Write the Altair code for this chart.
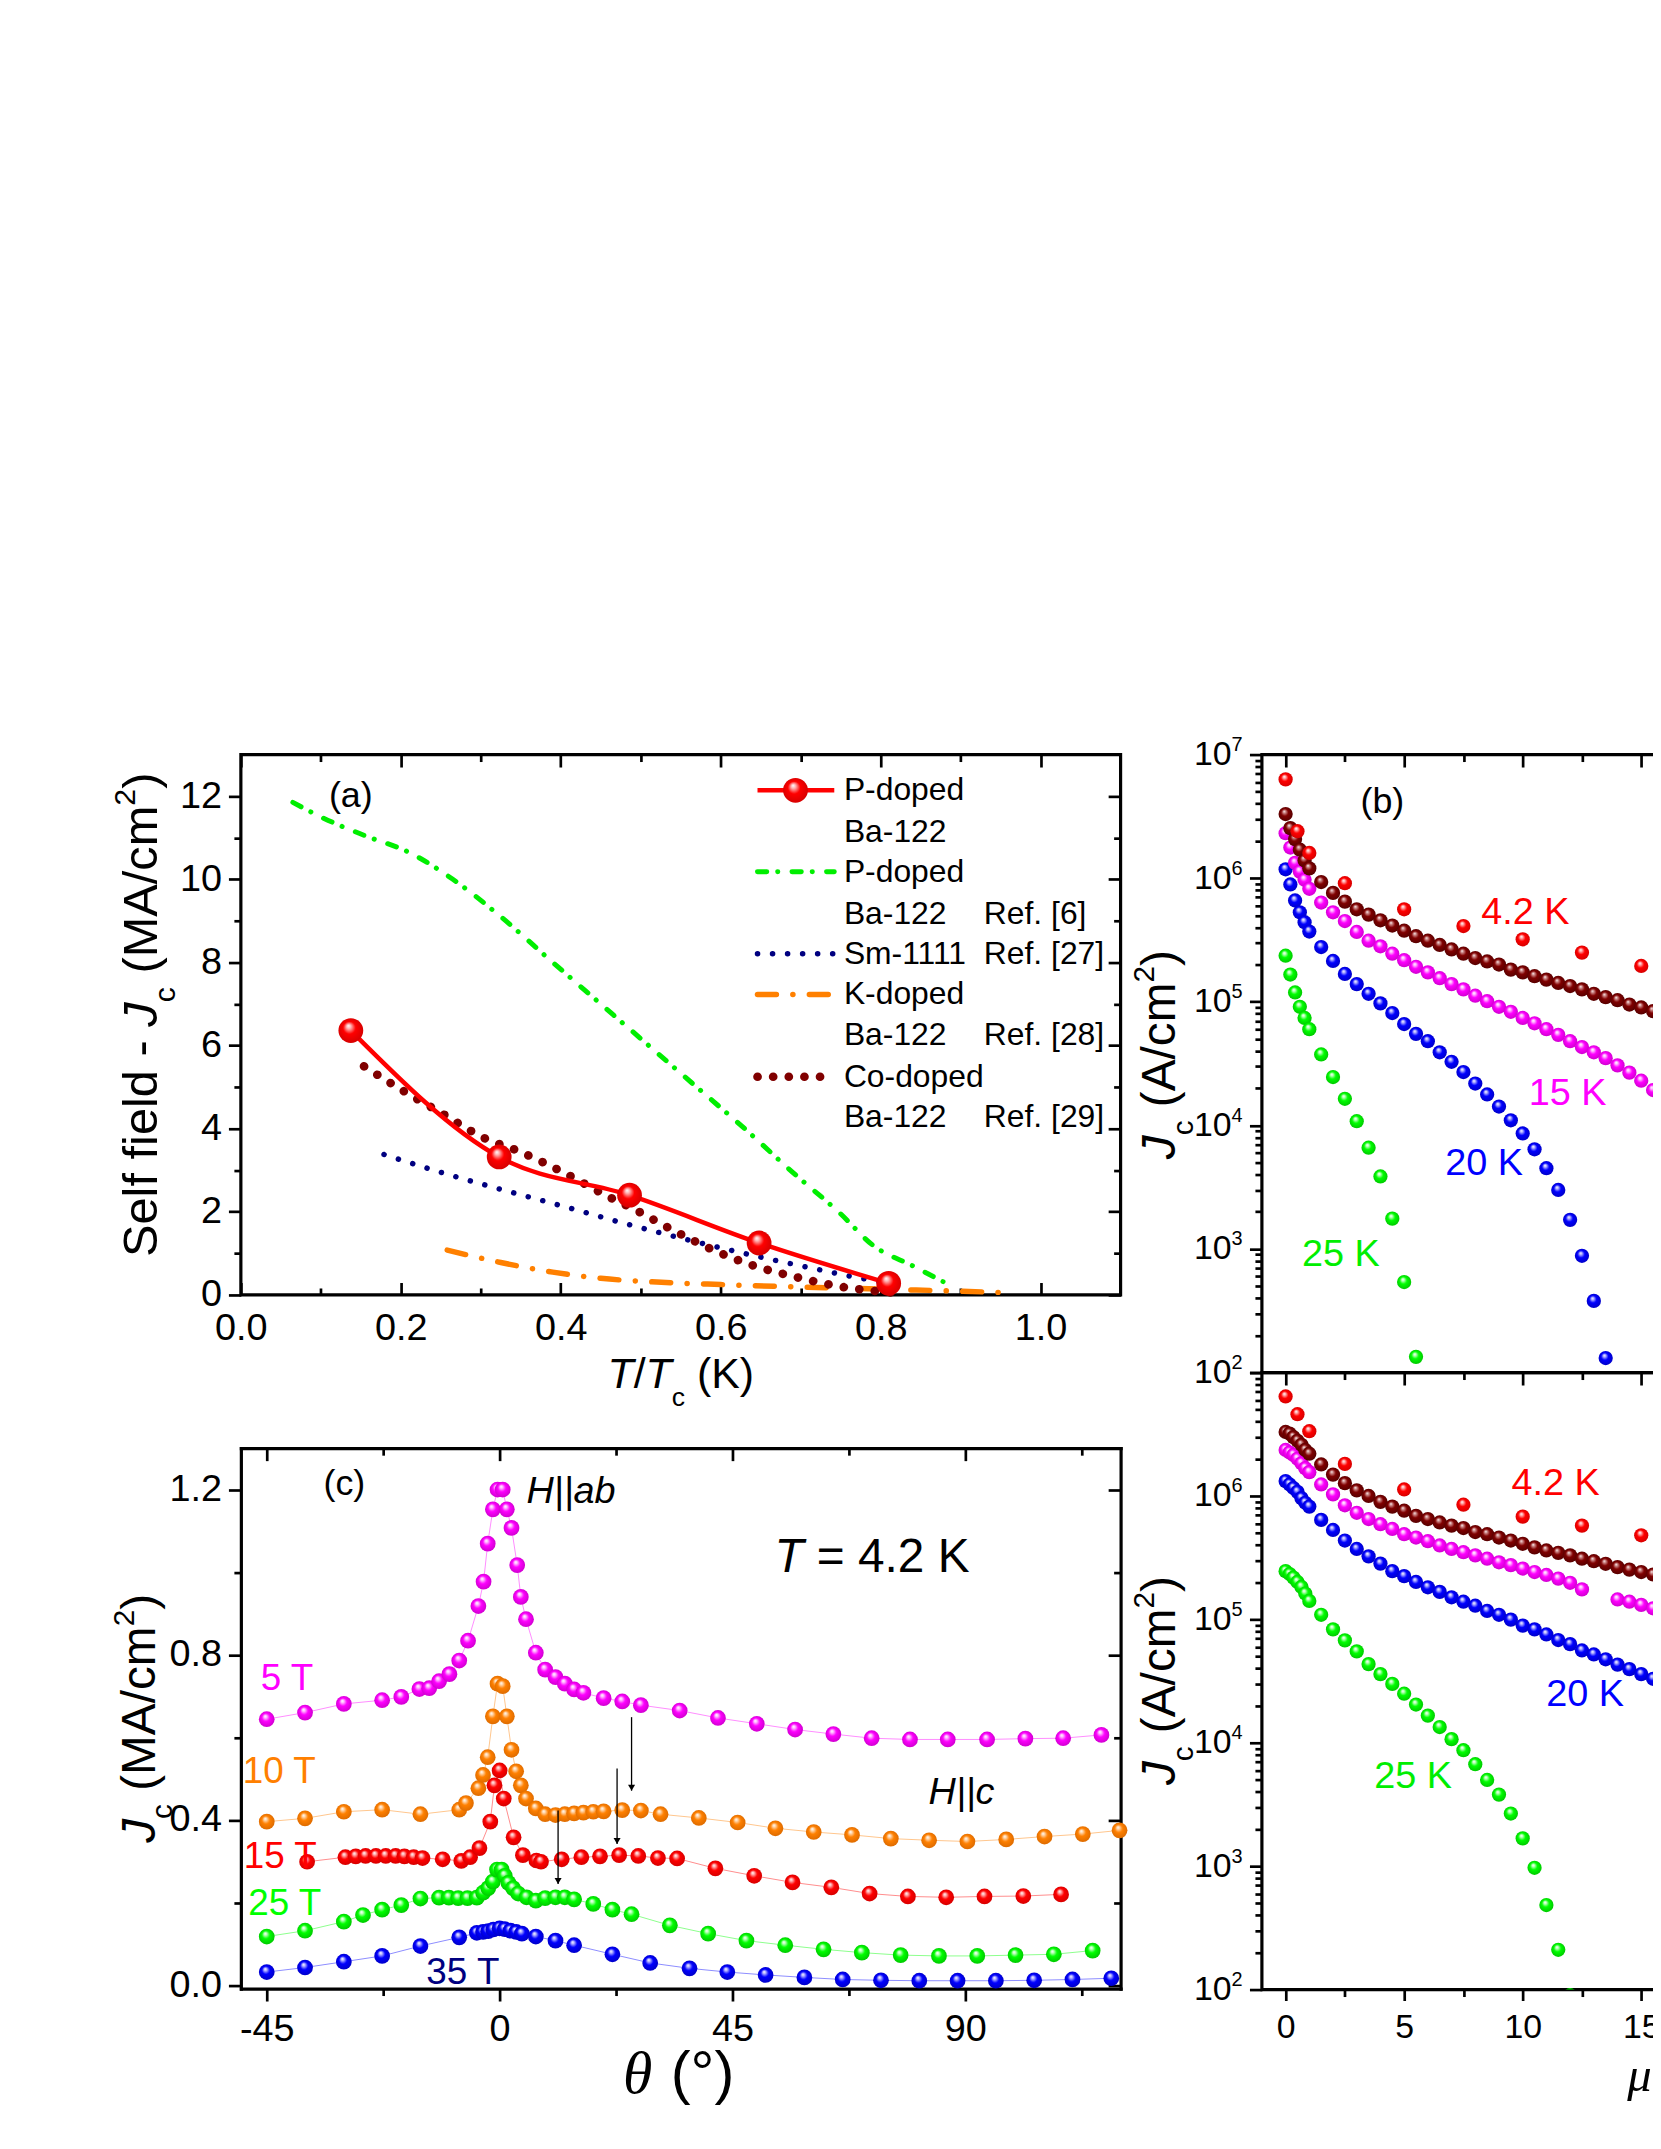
import altair as alt
import pandas as pd

FONT = "Liberation Sans"
SERIF = "Liberation Serif"

# ====================== DATA ======================
# (a) self-field Jc (MA/cm2) versus T/Tc
a_this_t = [0.1375, 0.323, 0.486, 0.648, 0.810]
a_this_jc = [6.36, 3.32, 2.40, 1.25, 0.28]
a_ref6_t = [0.065, 0.10, 0.155, 0.21, 0.265, 0.325, 0.39, 0.45, 0.51, 0.57, 0.63, 0.69, 0.75, 0.79, 0.84, 0.88]
a_ref6_jc = [11.85, 11.5, 11.05, 10.65, 10.0, 9.1, 8.0, 7.0, 6.0, 5.0, 4.0, 2.95, 1.95, 1.2, 0.7, 0.3]
a_sm_t = [0.179, 0.25, 0.325, 0.40, 0.48, 0.56, 0.65, 0.72, 0.77, 0.81]
a_sm_jc = [3.38, 2.95, 2.54, 2.15, 1.72, 1.32, 0.91, 0.62, 0.42, 0.30]
a_k_t = [0.258, 0.325, 0.39, 0.45, 0.52, 0.60, 0.70, 0.80, 0.88, 0.95]
a_k_jc = [1.08, 0.78, 0.55, 0.40, 0.31, 0.25, 0.19, 0.14, 0.10, 0.06]
a_co_t = [0.154, 0.204, 0.253, 0.308, 0.342, 0.408, 0.458, 0.492, 0.542, 0.592, 0.642, 0.692, 0.75, 0.80, 0.83]
a_co_jc = [5.5, 4.9, 4.35, 3.74, 3.5, 2.9, 2.38, 2.06, 1.54, 1.07, 0.70, 0.44, 0.20, 0.08, 0.03]

# legend of (a)
leg_col1 = ["P-doped", "Ba-122", "P-doped", "Ba-122", "Sm-1111", "K-doped", "Ba-122", "Co-doped", "Ba-122"]
leg_col2 = ["", "", "", "Ref. [6]", "Ref. [27]", "", "Ref. [28]", "", "Ref. [29]"]

# (c) Jc (MA/cm2) versus angle at 4.2 K
c5_th = [-45, -37.6, -30.1, -22.7, -19.0, -15.5, -13.6, -11.7, -9.7, -7.8, -6.1, -4.1, -3.1, -2.3, -1.3, -0.4, 0.6, 1.4,
         2.3, 3.4, 4.1, 5.1, 7.0, 8.8, 10.8, 12.6, 14.4, 16.2, 20.1, 23.7, 27.3, 34.8, 42.2, 49.7, 57.1, 64.5, 71.9,
         79.3, 86.6, 94.2, 101.6, 108.9, 116.3]
c5_jc = [0.644, 0.66, 0.681, 0.69, 0.698, 0.717, 0.719, 0.736, 0.753, 0.786, 0.834, 0.918, 0.977, 1.069, 1.152, 1.2,
         1.2, 1.152, 1.107, 1.017, 0.94, 0.886, 0.805, 0.764, 0.746, 0.73, 0.716, 0.708, 0.695, 0.687, 0.678, 0.665,
         0.647, 0.633, 0.619, 0.608, 0.598, 0.595, 0.595, 0.595, 0.597, 0.598, 0.606]
c10_th = [-45, -37.6, -30.1, -22.7, -15.3, -7.8, -6.5, -4.1, -3.2, -2.3, -1.3, -0.4, 0.6, 1.4, 2.3, 3.2, 4.1, 5.1, 7.0,
          8.8, 10.8, 12.6, 14.4, 16.2, 18.1, 20.1, 23.7, 27.3, 31.1, 38.5, 46.0, 53.3, 60.7, 68.1, 75.6, 83.0, 90.4,
          97.9, 105.3, 112.7, 119.8]
c10_jc = [0.396, 0.404, 0.42, 0.425, 0.414, 0.425, 0.441, 0.477, 0.509, 0.552, 0.651, 0.73, 0.724, 0.651, 0.57, 0.518,
          0.484, 0.452, 0.428, 0.414, 0.412, 0.414, 0.416, 0.418, 0.42, 0.421, 0.424, 0.423, 0.414, 0.405, 0.394, 0.38,
          0.371, 0.364, 0.355, 0.351, 0.348, 0.353, 0.36, 0.366, 0.375]
c15_th = [-37.2, -29.8, -27.8, -25.9, -23.9, -22.0, -20.1, -18.4, -16.6, -14.9, -11.0, -7.4, -5.7, -3.9, -1.8, -1.0, 0.0,
          0.8, 2.7, 4.5, 7.1, 8.0, 12.0, 15.8, 19.4, 23.1, 26.8, 30.6, 34.3, 41.7, 49.2, 56.6, 64.1, 71.5, 78.9, 86.3,
          93.7, 101.2, 108.5]
c15_jc = [0.299, 0.31, 0.312, 0.313, 0.313, 0.313, 0.313, 0.312, 0.31, 0.308, 0.305, 0.301, 0.31, 0.332, 0.396, 0.484,
          0.52, 0.452, 0.358, 0.315, 0.302, 0.299, 0.305, 0.31, 0.312, 0.315, 0.313, 0.308, 0.307, 0.283, 0.265, 0.249,
          0.237, 0.222, 0.215, 0.213, 0.215, 0.216, 0.22]
c25_th = [-45, -37.6, -30.1, -26.4, -22.7, -19.0, -15.3, -11.7, -9.8, -8.0, -6.2, -4.4, -3.2, -2.2, -1.3, -0.5, 0.4, 1.0,
          1.7, 2.6, 3.6, 5.2, 7.0, 8.8, 10.8, 12.6, 14.4, 18.1, 21.8, 25.5, 32.9, 40.3, 47.7, 55.2, 62.6, 70.0, 77.5,
          84.9, 92.3, 99.7, 107.1, 114.6]
c25_jc = [0.118, 0.132, 0.154, 0.17, 0.183, 0.194, 0.21, 0.212, 0.212, 0.211, 0.211, 0.212, 0.224, 0.235, 0.251, 0.28,
          0.28, 0.265, 0.248, 0.235, 0.222, 0.213, 0.205, 0.211, 0.213, 0.213, 0.208, 0.197, 0.183, 0.172, 0.145, 0.125,
          0.108, 0.097, 0.087, 0.079, 0.073, 0.071, 0.071, 0.073, 0.075, 0.084]
c35_th = [-45, -37.6, -30.1, -22.7, -15.3, -7.8, -4.4, -3.2, -2.2, -1.2, 0.0, 1.0, 2.1, 3.2, 4.3, 7.0, 10.8, 14.4, 21.8,
          29.1, 36.7, 44.0, 51.4, 58.9, 66.3, 73.7, 81.1, 88.5, 95.9, 103.3, 110.7, 118.2]
c35_jc = [0.032, 0.043, 0.057, 0.071, 0.095, 0.116, 0.127, 0.129, 0.131, 0.135, 0.138, 0.136, 0.132, 0.129, 0.125, 0.118,
          0.108, 0.097, 0.075, 0.054, 0.041, 0.032, 0.025, 0.019, 0.014, 0.012, 0.011, 0.011, 0.011, 0.012, 0.014, 0.017]
c_arrow_th = [25.5, 22.7, 11.3]
c_arrow_from = [0.649, 0.525, 0.423]
c_arrow_to = [0.471, 0.342, 0.245]

# (b) Jc (A/cm2) versus field
b_h42 = [0, 0.5, 1.0, 2.5, 5.0, 7.5, 10.0, 12.5, 15.0]
b_jc42 = [6.3e6, 2.4e6, 1.6e6, 9.1e5, 5.6e5, 4.1e5, 3.2e5, 2.5e5, 1.95e5]
b_h = [0, 0.2, 0.4, 0.6, 0.8, 1.0, 1.5, 2.0, 2.5, 3.0, 3.5, 4.0, 4.5, 5.0, 5.5, 6.0, 6.5, 7.0, 7.5, 8.0, 8.5, 9.0, 9.5,
       10.0, 10.5, 11.0, 11.5, 12.0, 12.5, 13.0, 13.5, 14.0, 14.5, 15.0, 15.5]
b_jc_br = [3.3e6, 2.54e6, 2.07e6, 1.7e6, 1.39e6, 1.2e6, 9.3e5, 7.6e5, 6.46e5, 5.6e5, 5.07e5, 4.56e5, 4.14e5, 3.76e5,
           3.39e5, 3.12e5, 2.88e5, 2.65e5, 2.45e5, 2.26e5, 2.12e5, 2.0e5, 1.82e5, 1.73e5, 1.61e5, 1.51e5, 1.42e5,
           1.34e5, 1.26e5, 1.16e5, 1.09e5, 1.03e5, 9.5e4, 9.0e4, 8.4e4]
b_jc15 = [2.31e6, 1.77e6, 1.33e6, 1.13e6, 9.7e5, 8.2e5, 6.35e5, 5.3e5, 4.5e5, 3.67e5, 3.12e5, 2.81e5, 2.45e5, 2.17e5,
          1.92e5, 1.73e5, 1.55e5, 1.39e5, 1.26e5, 1.12e5, 1.01e5, 9.1e4, 8.3e4, 7.4e4, 6.7e4, 6.0e4, 5.4e4, 4.8e4,
          4.3e4, 3.9e4, 3.5e4, 3.06e4, 2.67e4, 2.3e4, 1.93e4]
b_jc20 = [1.18e6, 8.9e5, 6.6e5, 5.3e5, 4.4e5, 3.7e5, 2.77e5, 2.14e5, 1.68e5, 1.39e5, 1.16e5, 9.7e4, 8.1e4, 6.6e4, 5.5e4,
          4.8e4, 3.9e4, 3.27e4, 2.7e4, 2.18e4, 1.78e4, 1.42e4, 1.1e4, 8.6e3, 6.4e3, 4.5e3, 3.0e3, 1.72e3, 8.8e2, 3.8e2,
          1.31e2]
b_jc25 = [2.36e5, 1.66e5, 1.19e5, 9.1e4, 7.4e4, 6.0e4, 3.75e4, 2.46e4, 1.64e4, 1.08e4, 6.6e3, 3.86e3, 1.76e3, 5.4e2,
          1.34e2]

# (d) Jc (A/cm2) versus field, second sample
d_h42 = [0, 0.5, 1.0, 2.5, 5.0, 7.5, 10.0, 12.5, 15.0]
d_jc42 = [6.4e6, 4.6e6, 3.35e6, 1.82e6, 1.13e6, 8.5e5, 6.8e5, 5.75e5, 4.8e5]
d_h = [0, 0.17, 0.33, 0.5, 0.67, 0.83, 1.0, 1.5, 2.0, 2.5, 3.0, 3.5, 4.0, 4.5, 5.0, 5.5, 6.0, 6.5, 7.0, 7.5, 8.0, 8.5,
       9.0, 9.5, 10.0, 10.5, 11.0, 11.5, 12.0, 12.5, 13.0, 13.5, 14.0, 14.5, 15.0, 15.5]
d_jc_br = [3.3e6, 3.2e6, 3.0e6, 2.8e6, 2.6e6, 2.36e6, 2.2e6, 1.8e6, 1.49e6, 1.27e6, 1.11e6, 1.0e6, 8.96e5, 8.2e5, 7.6e5,
           6.9e5, 6.5e5, 6.1e5, 5.75e5, 5.5e5, 5.1e5, 4.9e5, 4.6e5, 4.35e5, 4.1e5, 3.83e5, 3.62e5, 3.46e5, 3.3e5,
           3.1e5, 2.96e5, 2.82e5, 2.65e5, 2.53e5, 2.42e5, 2.31e5]
d_h15 = [0, 0.17, 0.33, 0.5, 0.67, 0.83, 1.0, 1.5, 2.0, 2.5, 3.0, 3.5, 4.0, 4.5, 5.0, 5.5, 6.0, 6.5, 7.0, 7.5, 8.0, 8.5,
         9.0, 9.5, 10.0, 10.5, 11.0, 11.5, 12.0, 12.5, 14.0, 14.5, 15.0, 15.5]
d_jc15 = [2.36e6, 2.25e6, 2.15e6, 2.0e6, 1.84e6, 1.68e6, 1.56e6, 1.24e6, 1.03e6, 8.4e5, 7.3e5, 6.5e5, 5.9e5, 5.4e5,
          4.9e5, 4.6e5, 4.3e5, 3.97e5, 3.72e5, 3.5e5, 3.3e5, 3.1e5, 2.9e5, 2.75e5, 2.58e5, 2.42e5, 2.29e5, 2.14e5,
          1.98e5, 1.75e5, 1.45e5, 1.39e5, 1.31e5, 1.23e5]
d_jc20 = [1.32e6, 1.24e6, 1.16e6, 1.08e6, 9.6e5, 8.8e5, 8.2e5, 6.4e5, 5.3e5, 4.35e5, 3.72e5, 3.24e5, 2.83e5, 2.46e5,
          2.24e5, 2.01e5, 1.82e5, 1.67e5, 1.51e5, 1.39e5, 1.29e5, 1.17e5, 1.09e5, 9.95e4, 8.9e4, 8.3e4, 7.55e4, 6.8e4,
          6.3e4, 5.6e4, 5.2e4, 4.75e4, 4.3e4, 3.95e4, 3.6e4, 3.3e4]
d_jc25 = [2.46e5, 2.33e5, 2.18e5, 2.01e5, 1.83e5, 1.62e5, 1.41e5, 1.09e5, 8.3e4, 6.76e4, 5.5e4, 4.34e4, 3.6e4, 3.0e4,
          2.5e4, 2.04e4, 1.66e4, 1.34e4, 1.07e4, 8.7e3, 6.7e3, 5.0e3, 3.8e3, 2.67e3, 1.68e3, 9.7e2, 4.84e2, 2.1e2, 9.0e1]

# annotation texts
c_field_labels = ["5 T", "10 T", "15 T", "25 T", "35 T"]
b_temp_labels = ["4.2 K", "15 K", "20 K", "25 K"]
d_temp_labels = ["4.2 K", "20 K", "25 K"]

# ====================== STYLE / LAYOUT ======================
RED, MAG, ORA, GRN, BLU, BRN, NAVY = "#ff0000", "#ff00ff", "#ff8000", "#00ff00", "#0000ff", "#800000", "#000080"
LIGHT = {RED: "#ffb4b4", MAG: "#ffc0ff", ORA: "#ffd8b0", GRN: "#c0ffc0", BLU: "#b8b8ff", BRN: "#d09090"}
DARK = {RED: "#d00000", MAG: "#c800c8", ORA: "#d86800", GRN: "#00c000", BLU: "#0000c0", BRN: "#500000"}

WA, HA = 884, 543      # panels (a) and (c)
WB, HB = 405, 621      # panels (b) and (d)
C_TOP = 76             # (c) frame starts this far below the top of its grid row
HC = HA + C_TOP

W = {' ': 278, '(': 333, ')': 333, '-': 333, '.': 278, '/': 278, '=': 584, '|': 260, '°': 400, '[': 278,
     ']': 278, 'A': 667, 'H': 722, 'J': 500, 'K': 667, 'M': 833, 'S': 667, 'T': 611, 'a': 556, 'b': 556, 'c': 500,
     'd': 556, 'e': 556, 'f': 278, 'i': 222, 'l': 222, 'm': 833, 'θ': 520, 'μ': 540}


def tw(s, size):
    return sum(W.get(ch, 556) for ch in s) * size / 1000.0


def ball(col):
    return alt.RadialGradient(
        gradient="radial", x1=0.4, y1=0.3, r1=0, x2=0.5, y2=0.5, r2=0.56,
        stops=[alt.GradientStop(offset=0, color="#ffffff"),
               alt.GradientStop(offset=0.16, color=LIGHT[col]),
               alt.GradientStop(offset=0.45, color=col),
               alt.GradientStop(offset=1, color=DARK[col])])


def XY(sx, sy):
    return dict(x=alt.X("x:Q", scale=sx, axis=None), y=alt.Y("y:Q", scale=sy, axis=None))


def frame(xs, ys, **extra):
    d = {"x": xs, "y": ys}
    d.update(extra)
    return pd.DataFrame(d)


def tick_axis(orient, values, size, inward, extra_offset=0):
    return alt.Axis(orient=orient, values=values, ticks=True, tickSize=size, tickWidth=2.7, tickColor="black",
                    labels=False, domain=False, grid=False, title=None,
                    offset=(-size if inward else 0) - extra_offset)


def label_axis(orient, values, pad, fs, expr, loff=0, domain=False):
    kw = dict(orient=orient, values=values, ticks=False, labels=True, labelPadding=pad, labelFontSize=fs,
              labelFont=FONT, labelColor="black", domain=domain, grid=False, title=None, labelFlush=False,
              labelOverlap=False, labelBound=False, labelExpr=expr, labelOffset=loff)
    if domain:
        kw.update(domainColor="black", domainWidth=3.2, domainCap="square")
    return alt.Axis(**kw)


def domain_axis(orient, offset=0):
    return alt.Axis(orient=orient, ticks=False, labels=False, domain=True, domainColor="black", domainWidth=3.2,
                    domainCap="square", grid=False, title=None, offset=offset)


def dummy(df, sx, sy, axx, axy):
    return alt.Chart(df).mark_point(opacity=0).encode(
        x=alt.X("x:Q", scale=sx, axis=axx), y=alt.Y("y:Q", scale=sy, axis=axy))


def rich(segments, size, x, y, angle=0, center=True, color="black", sub=0.36, sup=0.45, df=None):
    """Mixed-style text: each segment is its own text mark, advanced by its Arial width."""
    parts = []
    for t, st in segments:
        s = size * 0.62 if st in ("sub", "sup") else size
        lead = (len(t) - len(t.lstrip(" "))) * W[" "] * s / 1000.0
        trail = (len(t) - len(t.rstrip(" "))) * W[" "] * s / 1000.0
        core = t.strip(" ")
        parts.append((core, st, s, lead, tw(core, s), trail))
    total = sum(p[3] + p[4] + p[5] for p in parts)
    cum = -total / 2 if center else 0
    out = []
    for core, st, s, lead, w, trail in parts:
        cum += lead
        dy = sub * size if st == "sub" else (-sup * size if st == "sup" else 0)
        mk = alt.Chart(df if df is not None else pd.DataFrame({"k": [0]})).mark_text(
            text=core, font=SERIF if st == "si" else FONT, fontSize=s,
            fontStyle="italic" if st in ("i", "si") else "normal",
            align="left", baseline="alphabetic", angle=angle, dx=cum, dy=dy, color=color)
        out.append(mk.encode(x=x, y=y))
        cum += w + trail
    return out


def texts(df, sx, sy, size, color="black", align="center", style="normal", baseline="middle"):
    return alt.Chart(df).mark_text(font=FONT, fontSize=size, color=color, align=align, fontStyle=style,
                                   baseline=baseline).encode(text="t:N", **XY(sx, sy))


# ====================== PANEL (a) ======================
sax = alt.Scale(domain=[0, 1.1], nice=False, zero=False)
say = alt.Scale(domain=[0, 13], nice=False, zero=False)
df_this = frame(a_this_t, a_this_jc)
a_maj_x = [0.0, 0.2, 0.4, 0.6, 0.8, 1.0]
a_min_x = [0.1, 0.3, 0.5, 0.7, 0.9]
a_maj_y = [0, 2, 4, 6, 8, 10, 12]
a_min_y = [1, 3, 5, 7, 9, 11]
fmt1 = "format(datum.value, '.1f')"

a_layers = [
    dummy(df_this, sax, say, label_axis("bottom", a_maj_x, 15, 38, fmt1), label_axis("left", a_maj_y, 19.5, 38, "datum.value")),
    dummy(df_this, sax, say, tick_axis("bottom", a_maj_x, 12.5, True), tick_axis("left", a_maj_y, 12.5, False)),
    dummy(df_this, sax, say, tick_axis("bottom", a_min_x, 7, True), tick_axis("left", a_min_y, 7, False)),
    dummy(df_this, sax, say, tick_axis("top", a_maj_x, 12.5, True), tick_axis("right", a_maj_y, 12.5, True)),
    dummy(df_this, sax, say, tick_axis("top", a_min_x, 7, True), tick_axis("right", a_min_y, 7, True)),
]
a_styles = {
    "ref6": dict(color="#00ee00", strokeWidth=5, strokeDash=[9.3, 11, 0.1, 14.3], strokeCap="round"),
    "sm": dict(color=NAVY, strokeWidth=5.5, strokeDash=[0.1, 15], strokeCap="round"),
    "k": dict(color=ORA, strokeWidth=5.5, strokeDash=[19, 16.5, 0.1, 16.5], strokeCap="round"),
    "co": dict(color=BRN, strokeWidth=8.7, strokeDash=[0.1, 15.6], strokeCap="round"),
    "this": dict(color=RED, strokeWidth=4.5),
}
a_series = {"ref6": (a_ref6_t, a_ref6_jc), "sm": (a_sm_t, a_sm_jc), "k": (a_k_t, a_k_jc),
            "co": (a_co_t, a_co_jc), "this": (a_this_t, a_this_jc)}
for key, (xs, ys) in a_series.items():
    a_layers.append(alt.Chart(frame(xs, ys)).mark_line(interpolate="monotone", **a_styles[key]).encode(**XY(sax, say)))
a_layers.append(alt.Chart(df_this).mark_circle(size=620, fill=ball(RED), opacity=1, strokeWidth=0).encode(**XY(sax, say)))

# legend (positions in data units)
leg_y = [12.14, 11.14, 10.18, 9.17, 8.21, 7.23, 6.25, 5.25, 4.27]
leg_row_of = {"this": 0, "ref6": 2, "sm": 4, "k": 5, "co": 7}
for key, row in leg_row_of.items():
    a_layers.append(alt.Chart(frame([0.646, 0.742], [leg_y[row]] * 2)).mark_line(**a_styles[key]).encode(**XY(sax, say)))
a_layers.append(alt.Chart(frame([0.6935], [leg_y[0]])).mark_circle(size=620, fill=ball(RED), opacity=1, strokeWidth=0).encode(**XY(sax, say)))
a_layers.append(texts(frame([0.754] * 9, leg_y, t=leg_col1), sax, say, 32, align="left"))
a_layers.append(texts(frame([0.929] * 9, leg_y, t=leg_col2), sax, say, 32, align="left"))
a_layers.append(texts(frame([0.1375], [12.0], t=["(a)"]), sax, say, 36))
a_layers += rich([("Self field - ", "n"), ("J", "i"), ("c", "sub"), (" (MA/cm", "n"), ("2", "sup"), (")", "n")],
                 49, alt.value(-84), alt.value(HA / 2 - 10), angle=270)
a_layers += rich([("T", "i"), ("/", "n"), ("T", "i"), ("c", "sub"), (" (K)", "n")], 43,
                 alt.value(WA / 2), alt.value(HA + 94), sub=0.4)
panel_a = alt.layer(*a_layers).resolve_axis(x="independent", y="independent").properties(width=WA, height=HA)

# ====================== PANEL (c) ======================
scx = alt.Scale(domain=[-50, 120], nice=False, zero=False)
scy = alt.Scale(domain=[-0.008, 1.3], range=[HC, C_TOP], nice=False, zero=False)
df_c5 = frame(c5_th, c5_jc)
c_maj_x = [-45, 0, 45, 90]
c_min_x = [-22.5, 22.5, 67.5, 112.5]
c_maj_y = [0.0, 0.4, 0.8, 1.2]
c_min_y = [0.2, 0.6, 1.0]
c_layers = [
    dummy(df_c5, scx, scy, label_axis("bottom", c_maj_x, 22, 38, "'' + datum.value", domain=True),
          label_axis("left", c_maj_y, 19.5, 38, fmt1, domain=True)),
    dummy(df_c5, scx, scy, domain_axis("top", -C_TOP), domain_axis("right")),
    dummy(df_c5, scx, scy, tick_axis("bottom", c_maj_x, 12.5, False), tick_axis("left", c_maj_y, 12.5, False)),
    dummy(df_c5, scx, scy, tick_axis("bottom", c_min_x, 7, False), tick_axis("left", c_min_y, 7, False)),
    dummy(df_c5, scx, scy, tick_axis("top", c_maj_x, 12.5, True, C_TOP), tick_axis("right", c_maj_y, 12.5, True)),
    dummy(df_c5, scx, scy, tick_axis("top", c_min_x, 7, True, C_TOP), tick_axis("right", c_min_y, 7, True)),
]
c_series = [(c5_th, c5_jc, MAG), (c10_th, c10_jc, ORA), (c15_th, c15_jc, RED), (c25_th, c25_jc, GRN), (c35_th, c35_jc, BLU)]
for xs, ys, col in c_series:
    c_layers.append(alt.Chart(frame(xs, ys)).mark_line(color=col, strokeWidth=1, opacity=0.45).encode(**XY(scx, scy)))
for xs, ys, col in c_series:
    c_layers.append(alt.Chart(frame(xs, ys)).mark_circle(size=250, fill=ball(col), opacity=1, strokeWidth=0).encode(**XY(scx, scy)))
df_arr = pd.DataFrame({"x": c_arrow_th, "y": c_arrow_from, "y2": c_arrow_to})
c_layers.append(alt.Chart(df_arr).mark_rule(color="black", strokeWidth=1.3).encode(
    x=alt.X("x:Q", scale=scx, axis=None), y=alt.Y("y:Q", scale=scy, axis=None), y2="y2:Q"))
c_layers.append(alt.Chart(frame(c_arrow_th, c_arrow_to)).mark_point(shape="triangle-down", filled=True, size=50,
                                                                    color="black", opacity=1, yOffset=-3).encode(**XY(scx, scy)))
c_lab_x = [-41.1, -42.6, -42.4, -41.5, -7.1]
c_lab_y = [0.741, 0.515, 0.31, 0.197, 0.03]
for t, xx, yy, col in zip(c_field_labels, c_lab_x, c_lab_y, [MAG, ORA, RED, GRN, NAVY]):
    c_layers.append(texts(frame([xx], [yy], t=[t]), scx, scy, 37, color=col))
c_layers.append(texts(frame([-30.0], [1.214], t=["(c)"]), scx, scy, 36))
c_layers.append(texts(frame([5.2], [1.193], t=["H||ab"]), scx, scy, 38, align="left", style="italic"))
c_layers.append(texts(frame([82.9], [0.466], t=["H||c"]), scx, scy, 38, align="left", style="italic"))
c_layers += rich([("T", "i"), (" = 4.2 K", "n")], 48, alt.X("x:Q", scale=scx, axis=None),
                 alt.Y("y:Q", scale=scy, axis=None), center=False, df=frame([53.1], [1.0]))
c_layers += rich([("J", "i"), ("c", "sub"), (" (MA/cm", "n"), ("2", "sup"), (")", "n")],
                 48, alt.value(-86), alt.value(C_TOP + HA / 2), angle=270)
c_layers += rich([("θ", "si"), (" (°)", "n")], 60, alt.value(WA / 2 - 2), alt.value(HC + 105))
panel_c = alt.layer(*c_layers).resolve_axis(x="independent", y="independent").properties(
    width=WA, height=HC, view=alt.ViewBackground(stroke="transparent"))

# ====================== PANELS (b) and (d) ======================
sbx = alt.Scale(domain=[-1, 16], nice=False, zero=False)
sby = alt.Scale(type="log", domain=[1e2, 1e7], nice=False)
b_maj_x = [0, 5, 10, 15]
b_min_x = [2.5, 7.5, 12.5]
decades_b = [1e2, 1e3, 1e4, 1e5, 1e6, 1e7]
decades_d = [1e2, 1e3, 1e4, 1e5, 1e6]
log_minor = [k * 10 ** n for n in range(2, 7) for k in range(2, 10)]
exp_expr = "'' + round(log(datum.value) / LN10)"


def log_panel(df0, decades, bottom_labels):
    return [
        dummy(df0, sbx, sby, label_axis("bottom", b_maj_x, 21, 34, "'' + datum.value") if bottom_labels else None,
              label_axis("left", decades, 31, 34, "'10'")),
        dummy(df0, sbx, sby, None, label_axis("left", decades, 20, 20, exp_expr, loff=-10)),
        dummy(df0, sbx, sby, tick_axis("bottom", b_maj_x, 11, False) if bottom_labels else None,
              tick_axis("left", decades_b, 12.5, False)),
        dummy(df0, sbx, sby, tick_axis("bottom", b_min_x, 7, False) if bottom_labels else None,
              tick_axis("left", log_minor, 7, False)),
        dummy(df0, sbx, sby, tick_axis("top", b_maj_x, 12.5, True), None),
        dummy(df0, sbx, sby, tick_axis("top", b_min_x, 7, True), None),
    ]


def log_points(xs, ys, col):
    return alt.Chart(frame(xs, ys)).mark_circle(size=205, fill=ball(col), opacity=1, strokeWidth=0, clip=True).encode(**XY(sbx, sby))


jc_title = [("J", "i"), ("c", "sub"), (" (A/cm", "n"), ("2", "sup"), (")", "n")]

b_layers = log_panel(frame(b_h42, b_jc42), decades_b, False)
b_layers += [log_points(b_h[:15], b_jc25, GRN), log_points(b_h[:31], b_jc20, BLU), log_points(b_h, b_jc15, MAG),
             log_points(b_h, b_jc_br, BRN), log_points(b_h42, b_jc42, RED)]
for t, xx, yy, col in zip(b_temp_labels, [10.11, 11.89, 8.37, 2.33], [5.27e5, 1.78e4, 4.9e3, 9.0e2], [RED, MAG, BLU, "#00ee00"]):
    b_layers.append(texts(frame([xx], [yy], t=[t]), sbx, sby, 38, color=col))
b_layers.append(texts(frame([4.08], [4.12e6], t=["(b)"]), sbx, sby, 36))
b_layers += rich(jc_title, 48, alt.value(-87), alt.value(HB / 2 - 9), angle=270)
panel_b = alt.layer(*b_layers).resolve_axis(x="independent", y="independent").properties(width=WB, height=HB)

d_layers = log_panel(frame(d_h42, d_jc42), decades_d, True)
d_layers += [log_points(d_h[:29], d_jc25, GRN), log_points(d_h, d_jc20, BLU), log_points(d_h15, d_jc15, MAG),
             log_points(d_h, d_jc_br, BRN), log_points(d_h42, d_jc42, RED)]
for t, xx, yy, col in zip(d_temp_labels, [11.39, 12.63, 5.38], [1.24e6, 2.45e4, 5.3e3], [RED, BLU, "#00ee00"]):
    d_layers.append(texts(frame([xx], [yy], t=[t]), sbx, sby, 38, color=col))
d_layers += rich(jc_title, 48, alt.value(-87), alt.value(HB / 2 - 1), angle=270)
d_layers += rich([("μ", "si"), ("0", "sub"), ("H", "i"), (" (T)", "n")], 49, alt.value(367), alt.value(HB + 101), center=False)
panel_d = alt.layer(*d_layers).resolve_axis(x="independent", y="independent").properties(width=WB, height=HB - 1)

chart = alt.ConcatChart(
    concat=[panel_a, panel_b, panel_c, panel_d],
    columns=2, spacing=alt.RowColnumber(row=0, column=142), bounds="flush",
).properties(
    autosize=alt.AutoSizeParams(type="none"),
    padding={"left": 234, "top": 745, "right": 1419, "bottom": 1396},
    background="white",
).configure(font=FONT).configure_view(stroke="black", strokeWidth=3.2)

chart.save("out.html", embed_options={"renderer": "svg", "actions": False})
